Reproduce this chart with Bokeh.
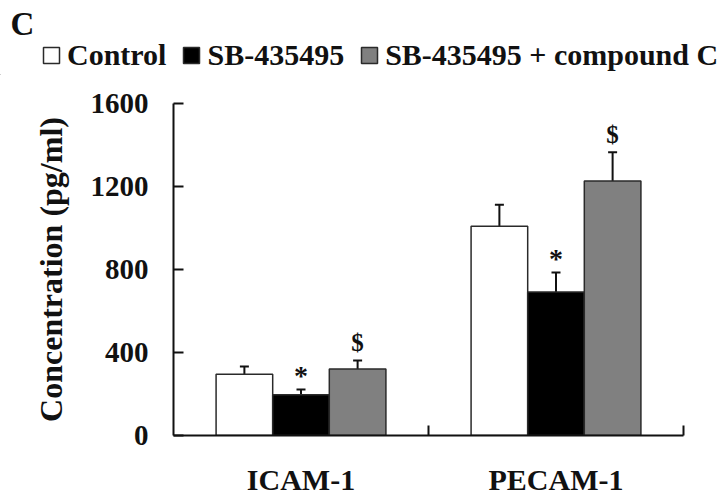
from bokeh.plotting import figure
from bokeh.layouts import column
from bokeh.models import (FactorRange, Range1d, LinearAxis, CategoricalAxis, FixedTicker,
                          ColumnDataSource, Whisker, TeeHead, Legend, LegendItem, Label)
from bokeh.transform import dodge
from bokeh.core.properties import value
from bokeh.embed import file_html
from bokeh.resources import INLINE

# ---- data ----
markers = ["ICAM-1", "PECAM-1"]
groups = ["Control", "SB-435495", "SB-435495 + compound C"]
control = [295, 1009]
control_err = [37, 103]
sb = [196, 691]
sb_err = [26, 95]
sbc = [320, 1226]
sbc_err = [41, 139]
sb_sig = ["*", "*"]
sbc_sig = ["$", "$"]
y_ticks = [0, 400, 800, 1200, 1600]
panel_letter = "C"
y_label = "Concentration (pg/ml)"

FONT = "Liberation Serif"
INK = "#111111"
fills = ["white", "black", "#808080"]
BAR_LINE = "#2a2a2a"

# ---- header strip: panel letter + legend ----
W, TOP_H = 724, 75
top = figure(width=W, height=TOP_H, x_range=Range1d(0, W), y_range=Range1d(0, TOP_H),
             x_axis_location=None, y_axis_location=None, title=None,
             min_border=0, output_backend="svg", toolbar_location=None)
top.frame_align = False
top.outline_line_color = None
top.xgrid.grid_line_color = None
top.ygrid.grid_line_color = None
# swatch renderers for the legend (placed outside the visible range)
dummies = [top.vbar(x=[-50], top=[-50], bottom=[-60], width=1, fill_color=fc,
                    line_color=BAR_LINE, line_width=1.5) for fc in fills]
top_legend = Legend(items=[LegendItem(label=g, renderers=[r]) for g, r in zip(groups, dummies)],
                    orientation="horizontal", location=(41, 3),
                    glyph_width=20, glyph_height=20, label_standoff=6, spacing=15,
                    padding=0, margin=0, border_line_color=None, background_fill_alpha=0,
                    label_text_font=FONT, label_text_font_style="bold",
                    label_text_font_size="30px", label_text_color=INK)
top.add_layout(top_legend, "center")
top.add_layout(Label(x=10, y=TOP_H - 23, text=panel_letter, text_font=FONT,
                     text_font_style="bold", text_font_size="33px", text_color=INK,
                     text_baseline="alphabetic"))

# ---- main chart ----
H = 425
FL, FR, FT, FB = 173, 683, 28, 360

p = figure(width=W, height=H, x_range=FactorRange(*markers), y_range=Range1d(0, 1600),
           x_axis_location=None, y_axis_location=None, title=None,
           min_border_left=FL, min_border_right=W - FR, min_border_top=FT, min_border_bottom=H - FB,
           output_backend="svg", toolbar_location=None)
p.frame_align = False
p.outline_line_color = None
p.xgrid.grid_line_color = None
p.ygrid.grid_line_color = None

# boundary ticks between categories (synthetic coordinates 1, 2, ...)
bounds = list(range(1, len(markers) + 1))
tick_axis = LinearAxis(ticker=FixedTicker(ticks=bounds),
                       major_tick_in=10, major_tick_out=0, minor_tick_line_color=None,
                       major_tick_line_width=2, axis_line_width=2, axis_line_color=INK,
                       major_tick_line_color=INK,
                       major_label_overrides={b: "" for b in bounds},
                       major_label_text_font_size="0px", major_label_standoff=0)
p.add_layout(tick_axis, "below")

cat_axis = CategoricalAxis(axis_line_color=None, major_tick_line_color=None,
                           minor_tick_line_color=None, major_label_standoff=21,
                           major_label_text_font=FONT, major_label_text_font_style="bold",
                           major_label_text_font_size="30px", major_label_text_color=INK)
p.add_layout(cat_axis, "below")

y_axis = LinearAxis(ticker=FixedTicker(ticks=y_ticks), major_tick_in=10, major_tick_out=0,
                    minor_tick_line_color=None, major_tick_line_width=2, axis_line_width=2,
                    axis_line_color=INK, major_tick_line_color=INK,
                    major_label_standoff=25, major_label_text_font=FONT,
                    major_label_text_font_style="bold", major_label_text_font_size="29px",
                    major_label_text_color=INK,
                    axis_label=y_label, axis_label_text_font=FONT,
                    axis_label_text_font_style="bold", axis_label_text_font_size="32px",
                    axis_label_text_color=INK, axis_label_standoff=19)
p.add_layout(y_axis, "left")

src = ColumnDataSource(dict(x=markers, control=control, sb=sb, sbc=sbc,
                            control_hi=[v + e for v, e in zip(control, control_err)],
                            sb_hi=[v + e for v, e in zip(sb, sb_err)],
                            sbc_hi=[v + e for v, e in zip(sbc, sbc_err)],
                            sb_sig=sb_sig, sbc_sig=sbc_sig))

BW = 0.222
offs = [-BW, 0.0, BW]
cols = ["control", "sb", "sbc"]
for off, fc, col in zip(offs, fills, cols):
    p.vbar(x=dodge("x", off, range=p.x_range), top=col, width=BW, bottom=0, source=src,
           fill_color=fc, line_color=BAR_LINE, line_width=1.5)
    w = Whisker(source=src, base=dodge("x", off, range=p.x_range), lower=col, upper=col + "_hi",
                dimension="height", line_color=INK, line_width=2,
                upper_head=TeeHead(size=9, line_width=2, line_color=INK), lower_head=None)
    p.add_layout(w)

sig_style = {"*": (-14, "28px"), "$": (-18, "25px")}
for off, col, sig in [(0.0, "sb_hi", "sb_sig"), (BW, "sbc_hi", "sbc_sig")]:
    yo, fs = sig_style[src.data[sig][0]]
    p.text(x=dodge("x", off, range=p.x_range), y=col, text=sig, source=src,
           text_align="center", text_baseline="alphabetic", y_offset=yo,
           text_font=value(FONT), text_font_style="bold", text_font_size=fs,
           text_color=INK)

open("out.html", "w").write(file_html(column(top, p, spacing=0), INLINE))
